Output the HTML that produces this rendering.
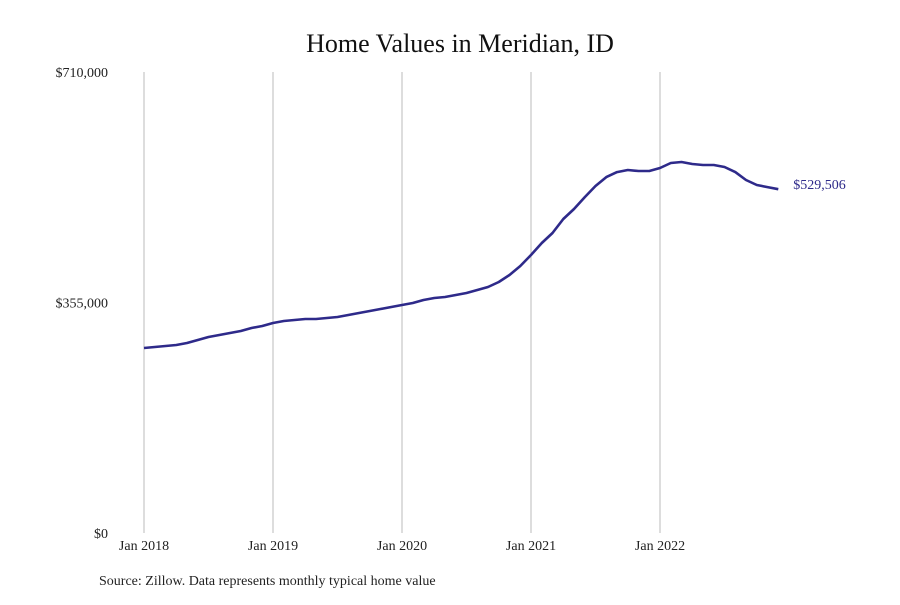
<!DOCTYPE html>
<html><head><meta charset="utf-8"><style>
body{margin:0;background:#fff;}
svg text{font-family:"Liberation Serif",serif;}
</style></head><body>
<svg width="900" height="600" xmlns="http://www.w3.org/2000/svg">
<text x="460" y="52" text-anchor="middle" font-size="26" fill="#111">Home Values in Meridian, ID</text>
<g id="grid"></g>
<g id="yax"></g>
<g id="xax"></g>
<path id="line" fill="none" stroke="#2e2a8a" stroke-width="2.6" stroke-linejoin="round"/>
<text id="endlabel" font-size="14" fill="#2e2a8a"></text>
<text x="99" y="585" font-size="14" fill="#222">Source: Zillow. Data represents monthly typical home value</text>
</svg>
<script>
const yearLabels=["Jan 2018","Jan 2019","Jan 2020","Jan 2021","Jan 2022"];
const yTicks=[0,355000,710000];
const yTickLabels=["$0","$355,000","$710,000"];
const values=[284900,286400,288000,289500,292600,297200,301800,304900,308000,311100,315700,318800,
323400,326500,328000,329600,329600,331100,332600,335700,338800,341900,345000,348000,
351100,354200,358800,361900,363400,366500,369600,374200,378900,386500,397300,411200,
428100,446600,462000,483600,499000,517400,534400,548200,555900,559000,557500,557500,
562100,569800,571400,568300,566700,566700,563700,555900,543600,535900,532800,529506];
const lastLabel="$529,506";
const NS="http://www.w3.org/2000/svg";
const x=m=>144+m*(129/12);
const y=v=>533-v/710000*461;
const grid=document.getElementById('grid'),xax=document.getElementById('xax'),yax=document.getElementById('yax');
yearLabels.forEach((l,i)=>{
  const gx=x(i*12);
  const ln=document.createElementNS(NS,'line');
  
  
  ln.setAttribute('x1',gx);ln.setAttribute('x2',gx);ln.setAttribute('y1',72);ln.setAttribute('y2',533);
  ln.setAttribute('stroke','#bbb');ln.setAttribute('stroke-width','1');
  grid.appendChild(ln);
  const t=document.createElementNS(NS,'text');
  
  
  t.setAttribute('x',gx);t.setAttribute('y',550);t.setAttribute('text-anchor','middle');
  t.setAttribute('font-size','14');t.setAttribute('fill','#222');t.textContent=l;
  xax.appendChild(t);
});
yTicks.forEach((v,i)=>{
  const t=document.createElementNS(NS,'text');
  
  
  t.setAttribute('x',108);t.setAttribute('y',y(v)+5);t.setAttribute('text-anchor','end');
  t.setAttribute('font-size','14');t.setAttribute('fill','#222');t.textContent=yTickLabels[i];
  yax.appendChild(t);
});
document.getElementById('line').setAttribute('d',values.map((v,i)=>(i?'L':'M')+x(i).toFixed(1)+','+y(v).toFixed(1)).join(''));
const el=document.getElementById('endlabel');
const li=values.length-1;
el.setAttribute('x',x(li)+15);el.setAttribute('y',y(values[li])+0);el.textContent=lastLabel;
</script>
</body></html>
